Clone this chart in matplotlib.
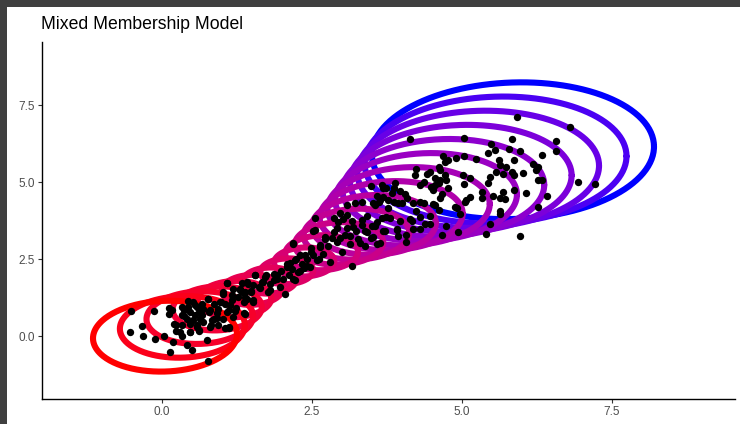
import numpy as np
import matplotlib
matplotlib.use("Agg")
import matplotlib.pyplot as plt
from matplotlib.patches import Rectangle

# membership weights for the drawn component ellipses (0 = pure red, 1 = pure blue)
weights = [0.0, 0.05, 0.1, 0.15, 0.2, 0.25, 0.3, 0.35, 0.4, 0.45, 0.5,
           0.55, 0.6, 0.65, 0.7, 0.75, 0.8, 0.85, 0.9, 0.95, 1.0]

# the two pure components: centre and half-axes of the outline
mu_red = np.array([0.05, 0.0])
mu_blue = np.array([5.85, 6.02])
axes_red = np.array([1.2, 1.15])
axes_blue = np.array([2.35, 2.22])
shape_corr = 0.06  # slight x/y correlation of every outline
rho = 0.85  # correlation between the two membership draws

# observed samples
points = np.array([
    (-0.51, 0.83), (-0.53, 0.15), (-0.34, 0.32), (-0.32, -0.01), (-0.13, 0.82),
    (-0.12, -0.10), (0.03, 0.0), (0.11, 0.91), (0.12, 0.72), (0.13, -0.50),
    (0.19, -0.19), (0.20, 0.40), (0.24, 0.18), (0.33, 0.02), (0.34, 0.94),
    (0.34, 0.35), (0.37, 0.67), (0.43, 1.13), (0.41, -0.30), (0.46, 0.15),
    (0.50, -0.46), (0.47, 0.78), (0.52, 0.51), (0.55, 1.0), (0.58, 0.29),
    (0.61, 0.18), (0.61, 0.78), (0.63, 0.56), (0.69, 0.89), (0.75, -0.14),
    (0.76, -0.82), (0.77, 1.21), (0.79, 0.78), (0.81, 0.37), (0.86, 0.56),
    (0.91, 0.58), (0.94, 0.89), (0.99, 1.10), (1.02, 1.37), (1.05, 0.26),
    (1.08, 1.73), (1.09, 0.78), (1.12, 0.31), (1.13, 1.0), (1.16, 1.16),
    (1.19, 1.54), (1.22, 0.83), (1.26, 1.27), (1.30, 1.54), (1.34, 1.43),
    (1.38, 0.72), (1.41, 1.21), (1.44, 1.70), (1.49, 1.48), (1.52, 1.10),
    (1.55, 1.97), (1.61, 1.59), (1.66, 1.75), (1.72, 1.92), (1.77, 1.43),
    (1.80, 1.70), (1.86, 2.02), (1.91, 1.86), (1.99, 2.13), (2.05, 1.37),
    (2.08, 2.35), (2.11, 1.97), (2.16, 2.19), (2.19, 2.98), (2.22, 1.81),
    (2.24, 2.51), (2.30, 2.13), (2.33, 2.35), (2.38, 2.62), (2.41, 2.29),
    (2.49, 2.73), (2.52, 3.43), (2.55, 3.83), (2.58, 2.46), (2.63, 2.89),
    (2.69, 2.67), (2.72, 3.21), (2.77, 2.94), (2.80, 2.40), (2.86, 3.38),
    (2.91, 3.05), (2.94, 3.70), (3.00, 2.73), (3.05, 3.27), (3.08, 3.92),
    (3.13, 3.00), (3.16, 2.29), (3.19, 3.54), (3.27, 3.16), (3.33, 3.76),
    (3.38, 2.94), (3.41, 3.38),
    (1.08, 1.71), (1.33, 1.71), (1.02, 1.44), (1.16, 1.33), (1.30, 1.49),
    (1.38, 1.28), (0.97, 1.11), (1.05, 1.06), (0.86, 1.06), (0.80, 0.84),
    (0.91, 0.74), (1.11, 0.84), (1.24, 0.90), (1.36, 0.74), (1.02, 0.57),
    (1.19, 0.63), (0.83, 0.52), (0.66, 1.06), (0.58, 0.95), (0.52, 1.11),
    (0.44, 0.95), (0.36, 0.84), (0.33, 0.68), (0.41, 0.57), (0.55, 0.68),
    (0.66, 0.68), (0.69, 0.46), (0.58, 0.36), (0.47, 0.41), (0.24, 0.36),
    (0.30, 0.14), (0.47, 0.14), (0.61, 0.19), (0.80, 0.30), (0.94, 0.36),
    (1.11, 0.25), (0.16, 0.84), (0.77, 1.22),
    (2.55, 3.44), (2.19, 3.01), (2.49, 2.85), (2.52, 2.63), (2.41, 2.52),
    (2.30, 2.63), (2.22, 2.47), (2.08, 2.25), (2.13, 2.36), (2.36, 2.20),
    (2.27, 2.09), (2.47, 2.25), (2.19, 1.87), (2.02, 1.87), (1.91, 1.98),
    (1.86, 1.82), (1.74, 1.98), (1.69, 1.76), (1.55, 1.98), (1.52, 1.66),
    (1.41, 1.76), (1.38, 1.44), (1.49, 1.44), (1.63, 1.55), (1.80, 1.49),
    (1.97, 1.60), (1.36, 1.11), (1.52, 1.17), (2.61, 2.52),
    (3.08, 4.26), (3.22, 4.32), (3.33, 4.35), (2.97, 3.99), (2.86, 3.83),
    (3.02, 3.79), (3.16, 3.73), (2.91, 3.51), (3.08, 3.51), (2.72, 3.14),
    (2.83, 3.18), (2.97, 3.18), (3.13, 3.24), (3.24, 3.40), (3.33, 3.62),
    (3.41, 3.89), (3.38, 3.40), (3.49, 3.18), (3.55, 4.26), (3.63, 4.43),
    (3.74, 4.81), (3.83, 4.64), (3.97, 4.70), (3.94, 4.32), (3.77, 4.16),
    (3.66, 3.83), (3.80, 3.83), (3.97, 3.73), (3.55, 3.57), (3.72, 3.40),
    (3.91, 3.45), (3.63, 3.02), (3.30, 3.02), (2.63, 2.97),
    (3.49, 4.86), (3.66, 4.91), (3.88, 4.97), (3.58, 4.54), (3.86, 4.37),
    (5.96, 3.24), (5.40, 3.32), (5.47, 3.65), (4.94, 3.38), (5.63, 3.97),
    (4.96, 3.97), (4.74, 3.59), (4.66, 3.27), (4.47, 3.65), (4.30, 3.49),
    (4.19, 3.49), (4.07, 3.29), (4.07, 3.05), (3.94, 3.25), (3.91, 3.49),
    (3.69, 3.43), (3.58, 3.00), (3.52, 3.21), (3.58, 3.70), (3.74, 3.86),
    (4.13, 3.81), (4.30, 3.86), (4.38, 3.65), (3.50, 3.59),
    (4.55, 4.91), (5.05, 4.37), (4.55, 4.26), (4.36, 4.32), (4.24, 4.05),
    (4.16, 3.73), (4.47, 3.89), (4.61, 4.11), (4.91, 4.16),
    (5.92, 7.12), (6.80, 6.78), (4.13, 6.39), (5.04, 6.42), (5.84, 6.39),
    (6.56, 6.34), (6.56, 6.02), (5.49, 6.23), (5.44, 5.96), (5.55, 6.06),
    (5.78, 6.09), (5.97, 6.02), (6.34, 5.88), (5.87, 5.71), (5.62, 5.71),
    (5.04, 5.85), (5.23, 5.75), (4.69, 5.84), (4.77, 5.71), (4.90, 5.80),
    (4.72, 5.66), (5.63, 5.55), (6.18, 5.60), (6.26, 5.50), (6.23, 5.41),
    (5.74, 5.48), (6.02, 5.31), (5.83, 5.33), (5.87, 5.23), (5.69, 5.26),
    (5.57, 5.33), (5.02, 5.23), (5.13, 5.12), (5.04, 4.94), (5.44, 4.98),
    (5.46, 5.17), (6.27, 5.06), (6.34, 5.06), (6.94, 5.00), (7.21, 4.93),
    (5.86, 4.74), (6.07, 4.65), (6.41, 4.56), (5.69, 4.69), (5.71, 4.44),
    (5.51, 4.56), (5.63, 4.49), (5.34, 4.69), (5.33, 4.48), (5.14, 4.53),
    (5.07, 4.42), (6.26, 4.20), (4.74, 5.06), (4.63, 5.06), (4.55, 5.12),
    (4.47, 5.33), (4.24, 5.44), (4.21, 5.23), (4.36, 5.01), (4.30, 4.90),
    (4.49, 4.85), (4.61, 4.96), (4.52, 4.76), (4.66, 4.63), (4.63, 4.48),
    (4.76, 4.81), (4.52, 4.29), (4.19, 4.31), (4.30, 4.36), (4.05, 4.63),
    (4.08, 4.48), (4.00, 4.31), (3.77, 4.42), (3.69, 4.53), (3.61, 4.36),
    (3.69, 4.81), (3.86, 4.82), (3.52, 4.31), (4.88, 4.20), (5.63, 4.07),
    (4.41, 5.28), (4.61, 5.50), (4.63, 5.39), (4.72, 5.23),
])
pt_x = points[:, 0]
pt_y = points[:, 1]

tick_vals = [0.0, 2.5, 5.0, 7.5]
tick_labels = ["0.0", "2.5", "5.0", "7.5"]

# sRGB <-> CIELAB so the red->blue gradient is interpolated in Lab
_M = np.array([[0.4124, 0.3576, 0.1805],
               [0.2126, 0.7152, 0.0722],
               [0.0193, 0.1192, 0.9505]])
_WHITE = np.array([0.95047, 1.0, 1.08883])


def to_lab(rgb):
    c = np.asarray(rgb, float)
    lin = np.where(c <= 0.04045, c / 12.92, ((c + 0.055) / 1.055) ** 2.4)
    xyz = _M @ lin / _WHITE
    d = 6 / 29
    f = np.where(xyz > d ** 3, np.cbrt(xyz), xyz / (3 * d * d) + 4 / 29)
    return np.array([116 * f[1] - 16, 500 * (f[0] - f[1]), 200 * (f[1] - f[2])])


def from_lab(lab):
    L, a, b = lab
    fy = (L + 16) / 116
    f = np.array([fy + a / 500, fy, fy - b / 200])
    d = 6 / 29
    xyz = np.where(f > d, f ** 3, 3 * d * d * (f - 4 / 29)) * _WHITE
    lin = np.clip(np.linalg.solve(_M, xyz), 0, 1)
    c = np.where(lin <= 0.0031308, 12.92 * lin, 1.055 * lin ** (1 / 2.4) - 0.055)
    return np.clip(c, 0, 1)


lab_lo = to_lab([1, 0, 0])
lab_hi = to_lab([0, 0, 1])

fig = plt.figure(figsize=(7.4, 4.24), dpi=100)
ax = fig.add_axes([42 / 740, 1 - 398.7 / 424, 693 / 740, 356.7 / 424])

t = np.linspace(0, 2 * np.pi, 240)
# blue end first so the redder outlines sit on top
for w in weights[::-1]:
    centre = (1 - w) * mu_red + w * mu_blue
    half = np.sqrt(((1 - w) * axes_red - w * axes_blue) ** 2
                   + 2 * (1 - rho) * w * (1 - w) * axes_red * axes_blue)
    col = from_lab((1 - w) * lab_lo + w * lab_hi)
    ex = centre[0] + half[0] * np.cos(t)
    ey = centre[1] + half[1] * (shape_corr * np.cos(t)
                                + np.sqrt(1 - shape_corr ** 2) * np.sin(t))
    ax.plot(ex, ey, color=col, lw=4.4, solid_capstyle="round", zorder=2)

ax.scatter(pt_x, pt_y, s=28, c="black", linewidths=0, zorder=3)

ax.set_xlim(-2.0, 9.55)
ax.set_ylim(-2.03, 9.55)
ax.set_xticks(tick_vals)
ax.set_xticklabels(tick_labels)
ax.set_yticks(tick_vals)
ax.set_yticklabels(tick_labels)
for side in ["top", "right"]:
    ax.spines[side].set_visible(False)
for side in ["left", "bottom"]:
    ax.spines[side].set_linewidth(1.0)
    ax.spines[side].set_color("black")
ax.tick_params(length=2.7, width=0.8, color="#333333", labelcolor="#4D4D4D",
               labelsize=8.5, pad=2.5)
for lab in ax.get_xticklabels() + ax.get_yticklabels():
    lab.set_family("Liberation Sans")

fig.text(41 / 740, 1 - 29 / 424, "Mixed Membership Model", fontsize=12.7,
         family="Liberation Sans", color="black", va="baseline", ha="left")

# dark frame strips along the top and left edges
fig.patches.append(Rectangle((0, 1 - 7 / 424), 1, 7 / 424, transform=fig.transFigure,
                             facecolor="#3f3f3f", edgecolor="none", zorder=5))
fig.patches.append(Rectangle((0, 0), 7 / 740, 1, transform=fig.transFigure,
                             facecolor="#3f3f3f", edgecolor="none", zorder=5))

fig.savefig("out.png", dpi=100)
